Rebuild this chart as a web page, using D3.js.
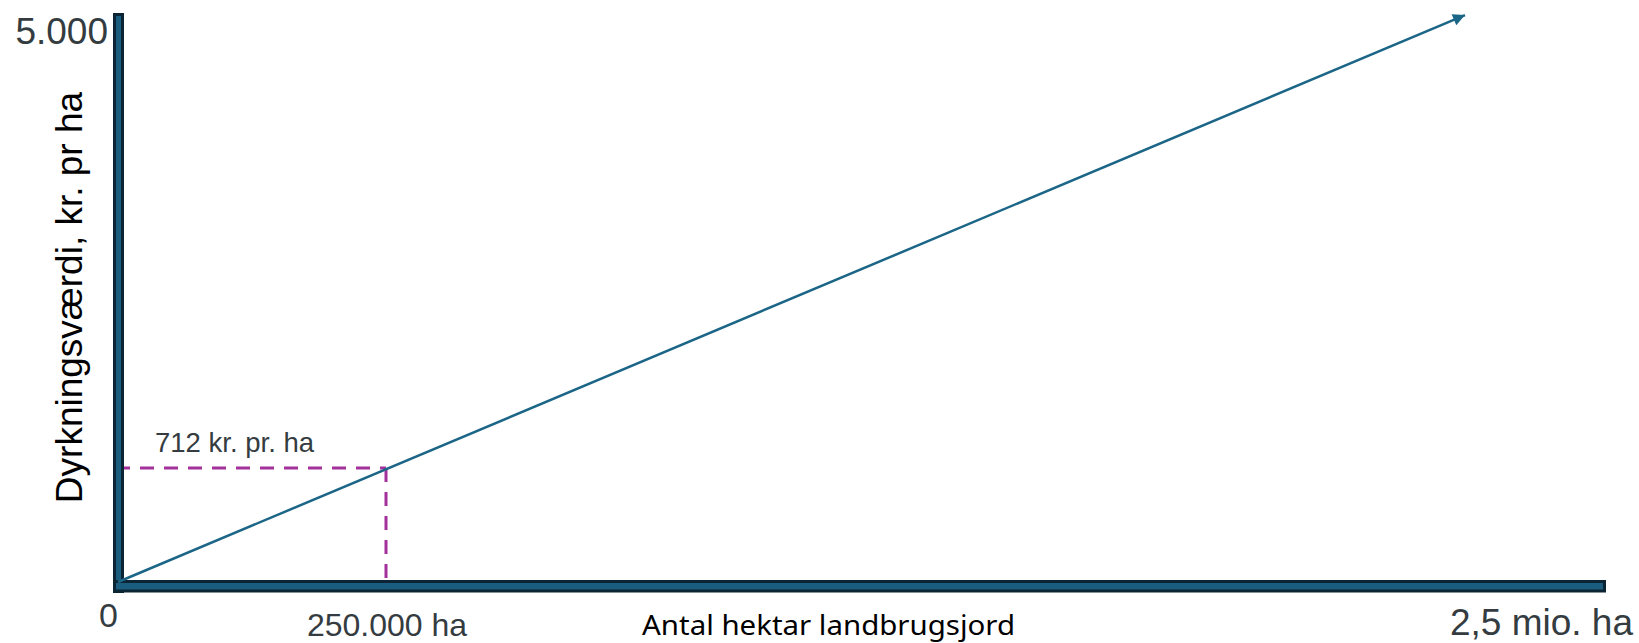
<!DOCTYPE html>
<html>
<head>
<meta charset="utf-8">
<script src="https://cdn.jsdelivr.net/npm/d3@7"></script>
<style>
  html, body { margin: 0; padding: 0; background: #ffffff; }
  svg { display: block; }
</style>
</head>
<body>
<svg id="chart" width="1639" height="643"></svg>
<script>
// ---- data ----
const xTickValues = [0, 250000, 2500000];
const xTickLabels = ["0", "250.000 ha", "2,5 mio. ha"];
const yTickValues = [5000];
const yTickLabels = ["5.000"];
const lineX = [0, 2240000];
const lineY = [0, 4980];
const markerX = [250000];
const markerY = [712];
const markerLabels = ["712 kr. pr. ha"];
const xTitle = "Antal hektar landbrugsjord";
const yTitle = "Dyrkningsværdi, kr. pr ha";

// ---- layout ----
const svg = d3.select("#chart");
const x = d3.scaleLinear().domain([0, 250000, 2500000]).range([118, 386, 1606]);
const y = d3.scaleLinear().domain([0, 712, 5000]).range([582, 468, 13]);

const blue = "#1b6587";
const axisFill = "#1a5d7f";
const axisStroke = "#0b2535";
const magenta = "#a3319c";
const tickColor = "#343c41";

// arrow marker
svg.append("defs").append("marker")
  .attr("id", "arrow")
  .attr("viewBox", "0 0 10 10")
  .attr("refX", 10).attr("refY", 5)
  .attr("markerUnits", "userSpaceOnUse")
  .attr("markerWidth", 16).attr("markerHeight", 12)
  .attr("orient", "auto")
  .append("path").attr("d", "M0,0 L10,5 L0,10 Z").attr("fill", blue);

// dashed guides
markerX.forEach((mx, i) => {
  svg.append("line")
    .attr("x1", x(0) - 2).attr("x2", x(mx))
    .attr("y1", y(markerY[i])).attr("y2", y(markerY[i]))
    .attr("stroke", magenta).attr("stroke-width", 3)
    .attr("stroke-dasharray", "14,10");
  svg.append("line")
    .attr("x1", x(mx)).attr("x2", x(mx))
    .attr("y1", y(markerY[i])).attr("y2", y(0))
    .attr("stroke", magenta).attr("stroke-width", 3)
    .attr("stroke-dasharray", "14,10");
  svg.append("text")
    .attr("x", x(0) + 37).attr("y", y(markerY[i]) - 16)
    .attr("font-family", "'Liberation Sans', Arial, sans-serif")
    .attr("font-size", 27.5)
    .attr("fill", tickColor)
    .text(markerLabels[i]);
});

// axis bars
const [yMin, yMax] = [y(0), y(5000)];
svg.append("rect")
  .attr("x", x(0) - 3.5).attr("y", yMax + 1.5)
  .attr("width", 8).attr("height", (y(0) + 9.5) - (yMax + 1.5))
  .attr("fill", axisFill).attr("stroke", axisStroke).attr("stroke-width", 3);
svg.append("rect")
  .attr("x", x(0) - 3.5).attr("y", yMin - 0.5)
  .attr("width", x(2500000) - 1.5 - (x(0) - 3.5)).attr("height", 9.5)
  .attr("fill", axisFill).attr("stroke", axisStroke).attr("stroke-width", 3);

// main line with arrow
const lineData = lineX.map((v, i) => [v, lineY[i]]);
svg.append("path")
  .datum(lineData)
  .attr("d", d3.line().x(d => x(d[0])).y(d => y(d[1])))
  .attr("fill", "none")
  .attr("stroke", blue)
  .attr("stroke-width", 2.5)
  .attr("marker-end", "url(#arrow)");

// x tick labels
const xTickStyle = [
  { anchor: "end", dx: 0, y: 627, size: 34 },
  { anchor: "middle", dx: 1, y: 636, size: 32 },
  { anchor: "end", dx: 27, y: 635, size: 37 }
];
xTickValues.forEach((v, i) => {
  const s = xTickStyle[i];
  svg.append("text")
    .attr("x", x(v) + s.dx).attr("y", s.y)
    .attr("text-anchor", s.anchor)
    .attr("font-family", "'Liberation Sans', Arial, sans-serif")
    .attr("font-size", s.size)
    .attr("fill", tickColor)
    .text(xTickLabels[i]);
});

// y tick labels
yTickValues.forEach((v, i) => {
  svg.append("text")
    .attr("x", x(0) - 10).attr("y", y(v) + 31)
    .attr("text-anchor", "end")
    .attr("font-family", "'Liberation Sans', Arial, sans-serif")
    .attr("font-size", 37)
    .attr("fill", tickColor)
    .text(yTickLabels[i]);
});

// axis titles
svg.append("text")
  .attr("x", 642).attr("y", 635)
  .attr("font-family", "'Noto Sans', 'Open Sans', sans-serif")
  .attr("font-size", 28)
  .attr("textLength", 373)
  .attr("lengthAdjust", "spacingAndGlyphs")
  .attr("fill", "#000")
  .text(xTitle);

svg.append("text")
  .attr("transform", "translate(82,297.5) rotate(-90)")
  .attr("text-anchor", "middle")
  .attr("font-family", "'Liberation Sans', Arial, sans-serif")
  .attr("font-size", 37)
  .attr("fill", "#000")
  .text(yTitle);
</script>
</body>
</html>
